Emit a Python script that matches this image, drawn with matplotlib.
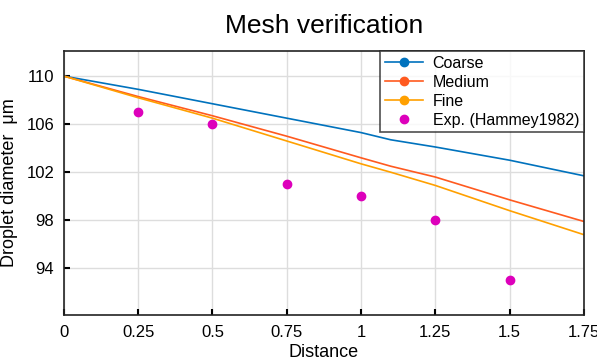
import numpy as np
import matplotlib.pyplot as plt
from matplotlib.lines import Line2D

plt.rcParams['font.family'] = ['Liberation Sans', 'DejaVu Sans']

# simulation curves
dist = [0, 0.25, 0.5, 0.75, 1.0, 1.1, 1.25, 1.5, 1.75]
coarse = [110, 108.9, 107.7, 106.5, 105.3, 104.7, 104.1, 103.0, 101.7]
medium = [110, 108.3, 106.7, 105.0, 103.2, 102.5, 101.6, 99.7, 97.9]
fine = [110, 108.2, 106.5, 104.6, 102.7, 102.0, 100.9, 98.8, 96.8]

# experimental data
exp_x = [0.25, 0.5, 0.75, 1.0, 1.25, 1.5]
exp_y = [107, 106, 101, 100, 98, 93]

xticks = [0, 0.25, 0.5, 0.75, 1, 1.25, 1.5, 1.75]
xlabels = ['0', '0.25', '0.5', '0.75', '1', '1.25', '1.5', '1.75']
yticks = [94, 98, 102, 106, 110]

colors = ['#0072BD', '#FF5A1F', '#FFA000']
names = ['Coarse', 'Medium', 'Fine']

fig = plt.figure(figsize=(5.97, 3.61), dpi=100)
ax = fig.add_axes([0.107, 0.127, 0.871, 0.732])

for y, c in zip([coarse, medium, fine], colors):
    ax.plot(dist, y, color=c, lw=1.2)
ax.plot(exp_x, exp_y, 'o', color='#DD00BB', ms=6)

ax.set_xlim(0, 1.75)
ax.set_ylim(90.1, 112.1)
ax.set_xticks(xticks)
ax.set_xticklabels(xlabels)
ax.set_yticks(yticks)
ax.tick_params(direction='in', labelsize=12, length=4, width=1.5, pad=7, top=False, right=False)
ax.grid(True, color='#dddddd', lw=1)
ax.set_axisbelow(True)
for s in ax.spines.values():
    s.set_linewidth(1.2)
    s.set_color('#222222')

ax.set_xlabel('Distance', fontsize=13, labelpad=3)
ax.set_ylabel('Droplet diameter  μm', fontsize=13, labelpad=6)
ax.set_title('Mesh verification', fontsize=19, pad=13)

handles = [Line2D([], [], color=c, lw=1.2, marker='o', ms=6) for c in colors]
handles.append(Line2D([], [], color='#DD00BB', ls='none', marker='o', ms=6))
leg = ax.legend(handles, names + ['Exp. (Hammey1982)'], loc='upper right', fontsize=11.5,
                frameon=True, fancybox=False, borderaxespad=0, handlelength=2.4,
                borderpad=0.3, labelspacing=0.25, handletextpad=0.6)
leg.get_frame().set_edgecolor('#222222')
leg.get_frame().set_linewidth(1.2)

fig.savefig('out.png', dpi=100)
